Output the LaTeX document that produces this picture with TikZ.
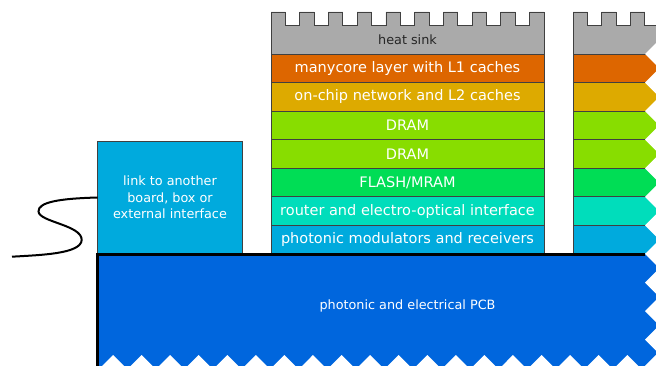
\documentclass[tikz,border=0pt]{standalone}
\usepackage{fontspec}
\setmainfont{DejaVu Sans}
\usetikzlibrary{positioning}

\definecolor{sinkgray}{HTML}{AAAAAA}
\definecolor{coreorange}{HTML}{DD6600}
\definecolor{netyellow}{HTML}{DDAA00}
\definecolor{dramgreen}{HTML}{88DD00}
\definecolor{flashgreen}{HTML}{00DD55}
\definecolor{routercyan}{HTML}{00DDBB}
\definecolor{photonblue}{HTML}{00AADD}
\definecolor{pcbblue}{HTML}{0066DD}

\begin{document}
\begin{tikzpicture}[x=1pt, y=-1pt, node distance = 0pt,
        layer/.style = {draw=black!75, line width=0.8pt, outer sep=0pt, inner sep=0pt,
                        minimum width=273pt, minimum height=28.57pt, text=white,
                        font=\fontsize{14.5}{17}\selectfont},
        small/.style = {font=\fontsize{12.8}{16.5}\selectfont},
        sink/.style = {draw=black!75, line width=0.8pt, fill=sinkgray},
        linkbox/.style = {layer, small, fill=photonblue, minimum width=144.6pt,
                          minimum height=113pt, align=center},
        cable/.style = {draw=black, line width=2pt}]
    \useasboundingbox (0,0) rectangle (656,366);
    \clip (0,0) rectangle (656,366);

    \foreach \sx in {271,573} {
        \draw[sink] (\sx,54) -- (\sx,12)
            \foreach \t in {0,...,8} { -- ++(14.368,0) -- ++(0,13.4) -- ++(14.368,0) -- ++(0,-13.4) }
            -- ++(14.368,0) -- ++(0,42) -- cycle;
    }
    \node[small, text=black!85] (sink) at (407.5,39.7) {heat sink};

    \node[layer, fill=coreorange] (cores) at (407.5,68.3) {manycore layer with L1 caches};
    \node[layer, fill=netyellow, below=of cores]   (net)    {on-chip network and L2 caches};
    \node[layer, fill=dramgreen, below=of net]     (dram1)  {DRAM};
    \node[layer, fill=dramgreen, below=of dram1]   (dram2)  {DRAM};
    \node[layer, fill=flashgreen, below=of dram2]  (flash)  {FLASH/MRAM};
    \node[layer, fill=routercyan, below=of flash]  (router) {router and electro-optical interface};
    \node[layer, fill=photonblue, below=of router] (photon) {photonic modulators and receivers};

    \foreach \c [count=\i from 0] in {coreorange,netyellow,dramgreen,dramgreen,flashgreen,routercyan,photonblue}
        \node[layer, fill=\c] (next\i) at (709.5,{68.3+28.57*\i}) {};

    \node[linkbox] (link) at (170,197.5) {link to another\\board, box or\\external interface};

    \fill[pcbblue] (97,254) rectangle (700,400);
    \node[small, text=white] (pcb) at (407.5,306) {photonic and electrical PCB};

    % torn edges
    \fill[white] (700,-5) -- (659.3,-5) -- (659.3,39.7)
        \foreach \k in {0,...,11} { -- (645,{54+28.57*\k}) -- (659.3,{68.3+28.57*\k}) }
        -- (700,400) -- cycle;
    \fill[white] (98.7,369.3)
        \foreach \k in {0,...,19} { -- ({113+28.57*\k},355) -- ({127.3+28.57*\k},369.3) }
        -- (700,400) -- (98.7,400) -- cycle;
    \draw[line width=3pt] (97.5,400) -- (97.5,254.5) -- (645,254.5);

    \coordinate (plug) at (12,256.7);
    \draw[cable] (link.west) .. controls (60,198.5) and (38,202) .. (38.5,211.5)
        .. controls (39,222) and (82,225) .. (81.7,240)
        .. controls (81,254) and (40,255) .. (plug);
\end{tikzpicture}
\end{document}
